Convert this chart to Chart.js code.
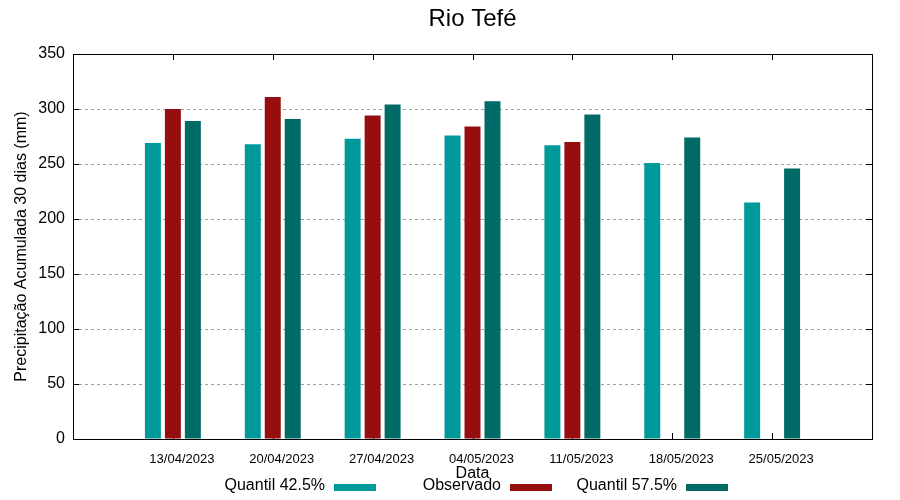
<!DOCTYPE html>
<html lang="pt-br">
<head>
    <meta charset="UTF-8">
    <title>Rio Tefé</title>
    <script src="https://cdn.jsdelivr.net/npm/chart.js"></script>
    <style>
        * { margin: 0; padding: 0; box-sizing: border-box; }
        body { background: #fff; }
        .chart-container { position: relative; width: 900px; height: 500px; }
    </style>
</head>
<body>
    <div class="chart-container">
        <canvas id="rioTefe" width="900" height="500"></canvas>
    </div>

    <script>
        // Dados
        const datas = ['13/04/2023', '20/04/2023', '27/04/2023', '04/05/2023', '11/05/2023', '18/05/2023', '25/05/2023'];
        const quantil425 = [269, 268, 273, 276, 267, 251, 215];
        const observado = [300, 311, 294, 284, 270, null, null];
        const quantil575 = [289, 291, 304, 307, 295, 274, 246];
        const yTicks = [0, 50, 100, 150, 200, 250, 300, 350];

        const fonte = "'Liberation Sans', Arial, sans-serif";
        const cores = ['#009999', '#960e0e', '#006a66'];

        // eixo x vai de 0 a 8, com as datas em 1..7
        const pad = arr => [null, ...arr, null];
        const labels = ['', ...datas, ''];

        // moldura, ticks para dentro, título e legenda no estilo gnuplot
        const molduraPlugin = {
            id: 'moldura',
            beforeDatasetsDraw(chart) {
                const { ctx, chartArea: a, scales: { x, y } } = chart;
                ctx.save();
                ctx.strokeStyle = '#000';
                ctx.lineWidth = 1;
                ctx.beginPath();
                yTicks.slice(1, -1).forEach(v => {
                    const py = Math.round(y.getPixelForValue(v)) + 0.5;
                    ctx.moveTo(a.left, py); ctx.lineTo(a.left + 6, py);
                    ctx.moveTo(a.right, py); ctx.lineTo(a.right - 6, py);
                });
                datas.forEach((d, i) => {
                    const px = Math.round(x.getPixelForValue(i + 1)) + 0.5;
                    ctx.moveTo(px, a.bottom); ctx.lineTo(px, a.bottom - 6);
                    ctx.moveTo(px, a.top); ctx.lineTo(px, a.top + 6);
                });
                ctx.stroke();
                ctx.restore();
            },
            afterDatasetsDraw(chart) {
                const { ctx, chartArea: a } = chart;
                ctx.save();
                ctx.strokeStyle = '#000';
                ctx.lineWidth = 1;
                ctx.strokeRect(Math.round(a.left) + 0.5, Math.round(a.top) + 0.5,
                    Math.round(a.right - a.left), Math.round(a.bottom - a.top));

                const cx = (a.left + a.right) / 2;
                ctx.fillStyle = '#000';
                ctx.textAlign = 'center';
                ctx.textBaseline = 'middle';
                ctx.font = '24px ' + fonte;
                ctx.fillText('Rio Tefé', cx, 19);
                ctx.font = '16px ' + fonte;
                ctx.fillText('Data', cx, 474);

                // legenda: texto e depois a amostra de cor
                ctx.textAlign = 'right';
                chart.data.datasets.forEach((ds, i) => {
                    const sx = 334 + i * 176;
                    ctx.fillStyle = '#000';
                    ctx.fillText(ds.label, sx - 9, 486);
                    ctx.fillStyle = ds.backgroundColor;
                    ctx.fillRect(sx, 484, 42, 7);
                });
                ctx.restore();
            }
        };

        new Chart(document.getElementById('rioTefe'), {
            type: 'bar',
            data: {
                labels: labels,
                datasets: [
                    { label: 'Quantil 42.5%', data: pad(quantil425), backgroundColor: cores[0] },
                    { label: 'Observado', data: pad(observado), backgroundColor: cores[1] },
                    { label: 'Quantil 57.5%', data: pad(quantil575), backgroundColor: cores[2] }
                ]
            },
            options: {
                responsive: false,
                animation: false,
                devicePixelRatio: 1,
                categoryPercentage: 0.6,
                barPercentage: 0.8,
                layout: { padding: { top: 54, right: 28, left: 0, bottom: 0 } },
                plugins: {
                    legend: { display: false },
                    title: { display: false },
                    tooltip: { enabled: false }
                },
                scales: {
                    x: {
                        offset: false,
                        grid: { display: false, drawTicks: false },
                        border: { display: false },
                        ticks: {
                            autoSkip: false,
                            maxRotation: 0,
                            labelOffset: 9,
                            padding: 13,
                            color: '#000',
                            font: { family: fonte, size: 13 }
                        },
                        afterFit(scale) { scale.height = 61; }
                    },
                    y: {
                        min: 0,
                        max: 350,
                        afterBuildTicks(scale) { scale.ticks = yTicks.map(v => ({ value: v })); },
                        grid: {
                            drawTicks: false,
                            color: ctx => (ctx.tick && (ctx.tick.value === 0 || ctx.tick.value === 350)) ? 'rgba(0,0,0,0)' : '#a0a0a0',
                            lineWidth: 1
                        },
                        border: { display: false, dash: [3, 3] },
                        ticks: {
                            padding: 8,
                            color: '#000',
                            font: { family: fonte, size: 16 }
                        },
                        title: {
                            display: true,
                            text: 'Precipitação Acumulada 30 dias (mm)',
                            color: '#000',
                            font: { family: fonte, size: 16 },
                            padding: { top: 12, bottom: 0 }
                        },
                        afterFit(scale) { scale.width = 73; }
                    }
                }
            },
            plugins: [molduraPlugin]
        });
    </script>
</body>
</html>
